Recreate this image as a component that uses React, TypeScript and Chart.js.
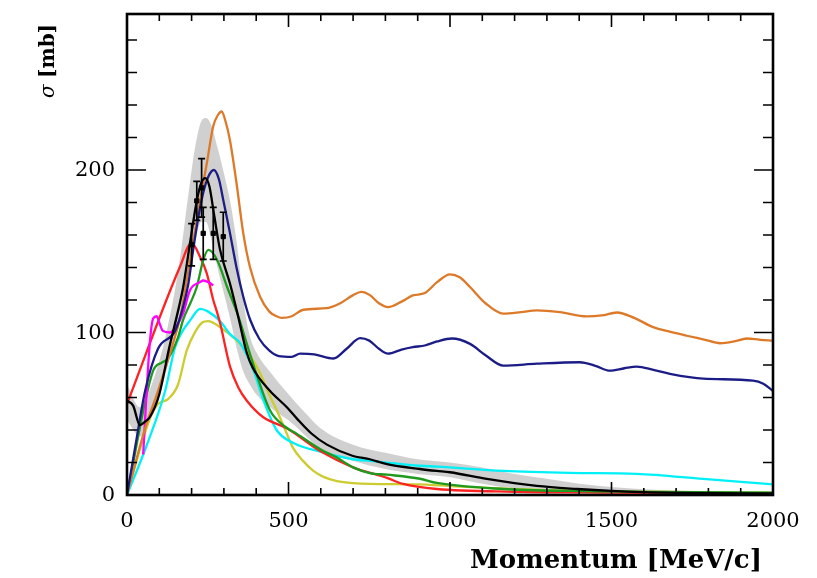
import React, { useEffect, useRef } from "react";
import { Chart, registerables } from "chart.js";

Chart.register(...registerables);

const X_MIN = 0;
const X_MAX = 2000;
const Y_MIN = 0;
const Y_MAX = 296;
const xTickValues = [0, 500, 1000, 1500, 2000];
const yTickValues = [0, 100, 200];
const xTitle = "Momentum [MeV/c]";
const yTitleSymbol = "σ";
const yTitleUnit = "[mb]";

// Orange curve
const orangeP = [0, 56, 96, 139, 164, 200, 226, 247, 267, 282, 293, 305, 319, 339, 360, 381, 412, 440, 463, 480, 510, 546, 619, 660, 700, 725, 752, 780, 808, 850, 885, 922, 960, 1000, 1030, 1062, 1110, 1165, 1220, 1269, 1340, 1424, 1470, 1517, 1570, 1629, 1680, 1733, 1790, 1836, 1880, 1919, 1960, 2000];
const orangeS = [0, 41, 64, 91, 109, 150, 181, 204, 227, 234, 236, 230, 218, 192, 161, 140, 122, 113, 110, 109, 110, 114, 115, 118, 123, 125, 123, 118, 115.6, 119, 122.8, 124.3, 131, 135.8, 134, 128, 118, 111.6, 112.5, 113.6, 112.5, 109.9, 110.5, 112.3, 109, 103.3, 100.5, 98, 95.5, 93.4, 94.5, 96.3, 95.5, 95];

// Navy curve
const navyP = [0, 30, 56, 96, 149, 174, 190, 205, 221, 236, 252, 269, 285, 298, 319, 339, 360, 381, 410, 440, 470, 510, 536, 580, 639, 680, 722, 750, 780, 808, 850, 885, 922, 960, 1006, 1062, 1110, 1165, 1269, 1402, 1450, 1495, 1540, 1578, 1630, 1681, 1784, 1938, 1970, 2000];
const navyS = [0, 35, 64, 90, 101, 116, 130, 151, 171, 186, 196, 200, 194, 181.5, 161, 140, 122, 108, 96, 89, 85.5, 85, 87, 86.5, 84, 90, 96.5, 95, 90, 87, 89.5, 91, 92, 94.5, 96.3, 93, 86, 79.6, 80.8, 81.7, 79.5, 76.5, 78, 79, 77, 74.6, 71.6, 70.4, 68.5, 64];

// Black curve
const blackP = [0, 19, 40, 55, 71, 100, 130, 160, 174, 195, 216, 230, 242, 255, 270, 288, 319, 344, 370, 390, 443, 495, 526, 570, 619, 700, 752, 805, 907, 959, 1000, 1114, 1269, 1393, 1500, 1600, 1800, 2000];
const blackS = [58, 55, 43, 45, 48, 62, 90, 115, 128, 155, 181, 192, 195, 190, 172, 151, 130, 110, 88, 78, 64, 54, 47, 38, 31, 24, 22, 19, 16, 14.8, 14, 9.9, 5.6, 3.7, 2.5, 1.8, 1.2, 1];

// Cyan curve
const cyanP = [0, 60, 118, 149, 201, 226, 250, 288, 319, 350, 391, 422, 463, 515, 598, 700, 752, 907, 959, 1165, 1372, 1578, 1784, 1981, 2000];
const cyanS = [0, 30, 64, 91, 109, 114.5, 113, 107, 99, 93.5, 77, 58.5, 40, 32, 26.7, 22, 21, 18, 17.5, 14.8, 13.6, 13, 9.9, 6.8, 6.5];

// Yellow curve
const yellowP = [0, 40, 71, 96, 127, 158, 185, 210, 232, 251, 290, 340, 380, 412, 440, 464, 490, 514, 545, 576, 610, 650, 700, 752, 900, 1000, 1100, 1300, 1600, 2000];
const yellowS = [0, 28, 47, 56, 59, 68, 89, 100, 106, 107, 103, 95, 86, 75, 62, 52, 40, 29, 21, 15, 11, 8.6, 7.3, 6.8, 6.5, 5.5, 4.5, 3, 2, 1.5];

// Red curve
const redP = [0, 164, 200, 226, 247, 267, 278, 288, 319, 345, 371, 421, 495, 598, 700, 805, 855, 959, 1200, 1500, 2000];
const redS = [56, 140.5, 155, 146.6, 136.4, 120, 113, 106, 79, 66, 58, 48, 41, 27, 17, 10.5, 6.8, 3.7, 2, 1.5, 1];

// Green curve
const greenP = [0, 81, 108, 127, 158, 174, 196, 216, 236, 252, 279, 310, 345, 371, 400, 443, 490, 526, 600, 650, 700, 752, 805, 907, 959, 1165, 1372, 2000];
const greenS = [0, 76.5, 81.5, 84, 97, 108, 118, 128, 144.6, 150.8, 144.6, 128, 109.7, 93, 75, 52, 42, 37.6, 28, 23, 17, 13.5, 12.5, 10, 7.4, 3.7, 2.5, 1.5];

// Magenta curve
const magentaP = [50, 70, 81, 92, 100, 111, 133, 150, 174, 195, 226, 236, 252, 267];
const magentaS = [25, 92, 108.6, 110, 106, 101, 100, 103, 112, 126, 131, 132, 131, 129];

// Grey uncertainty band
const bandP = [0, 40, 80, 120, 160, 190, 210, 230, 245, 260, 280, 300, 320, 340, 360, 380, 400, 450, 500, 550, 600, 700, 800, 900, 1000, 1100, 1200, 1300, 1400, 1500, 1600, 1800, 2000];
const bandUpper = [68, 54, 70, 98, 140, 185, 213, 230, 232, 228, 214, 198, 180, 155, 120, 98, 88, 74, 62, 51, 41, 31, 26, 22, 20, 17, 13, 10, 7, 5, 3.5, 2.2, 1.8];
const bandLower = [46, 36, 50, 75, 108, 138, 156, 168, 168, 158, 140, 124, 108, 90, 76, 68, 62, 53, 46, 37, 28, 21, 16, 13, 11, 7, 4, 2, 1, 0.5, 0.3, 0.2, 0.1];

// Measured points with error bars
const dataP = [200, 216, 231, 236, 267, 298];
const dataS = [154, 181, 189, 161, 161, 159];
const dataErr = [13, 12, 18, 16, 16, 15];

const zip = (p: number[], s: number[]) => p.map((x, i) => ({ x, y: s[i] }));

const line = (label: string, p: number[], s: number[], color: string, order: number) => ({
  label,
  data: zip(p, s),
  borderColor: color,
  backgroundColor: color,
  borderWidth: 2.3,
  pointRadius: 0,
  fill: false,
  cubicInterpolationMode: "monotone" as const,
  order,
});

const framePlugin = {
  id: "frameTicks",
  afterDatasetsDraw(chart: any) {
    const ctx = chart.ctx;
    const xs = chart.scales.x;
    const ys = chart.scales.y;
    ctx.save();
    ctx.strokeStyle = "#000";
    ctx.lineWidth = 1.7;
    for (let i = 0; i < dataP.length; i++) {
      const px = xs.getPixelForValue(dataP[i]);
      const top = ys.getPixelForValue(dataS[i] + dataErr[i]);
      const bot = ys.getPixelForValue(dataS[i] - dataErr[i]);
      ctx.beginPath();
      ctx.moveTo(px, top);
      ctx.lineTo(px, bot);
      ctx.moveTo(px - 3.5, top);
      ctx.lineTo(px + 3.5, top);
      ctx.moveTo(px - 3.5, bot);
      ctx.lineTo(px + 3.5, bot);
      ctx.stroke();
    }
    ctx.restore();
  },
  afterDraw(chart: any) {
    const ctx = chart.ctx;
    const a = chart.chartArea;
    const xs = chart.scales.x;
    const ys = chart.scales.y;
    ctx.save();
    ctx.strokeStyle = "#000";
    ctx.lineWidth = 1.6;
    for (let v = X_MIN; v <= X_MAX; v += 100) {
      const px = xs.getPixelForValue(v);
      const len = v % 500 === 0 ? 13 : 7;
      ctx.beginPath();
      ctx.moveTo(px, a.bottom);
      ctx.lineTo(px, a.bottom - len);
      ctx.moveTo(px, a.top);
      ctx.lineTo(px, a.top + len);
      ctx.stroke();
    }
    for (let v = Y_MIN; v <= Y_MAX; v += 20) {
      const py = ys.getPixelForValue(v);
      const len = v % 100 === 0 ? 19 : 10;
      ctx.beginPath();
      ctx.moveTo(a.left, py);
      ctx.lineTo(a.left + len, py);
      ctx.moveTo(a.right, py);
      ctx.lineTo(a.right - len, py);
      ctx.stroke();
    }
    ctx.lineWidth = 2.6;
    ctx.strokeRect(a.left, a.top, a.right - a.left, a.bottom - a.top);

    ctx.fillStyle = "#000";
    ctx.font = "bold 26px 'DejaVu Serif'";
    ctx.textAlign = "right";
    ctx.textBaseline = "alphabetic";
    ctx.fillText(xTitle, 762, 568);

    ctx.translate(54, 98);
    ctx.rotate(-Math.PI / 2);
    ctx.textAlign = "left";
    ctx.textBaseline = "alphabetic";
    ctx.font = "italic 20px 'DejaVu Serif'";
    ctx.fillText(yTitleSymbol, 0, 0);
    const w = ctx.measureText(yTitleSymbol + " ").width;
    ctx.font = "bold 20px 'DejaVu Serif'";
    ctx.fillText(yTitleUnit, w, 0);
    ctx.restore();
  },
};

export default function App() {
  const ref = useRef<HTMLCanvasElement | null>(null);
  useEffect(() => {
    if (!ref.current) return;
    const chart = new Chart(ref.current, {
      type: "line",
      data: {
        datasets: [
          {
            label: "data",
            data: zip(dataP, dataS),
            showLine: false,
            pointStyle: "rect",
            pointRadius: 3,
            backgroundColor: "#000",
            borderColor: "#000",
            order: 0,
          } as any,
          line("black", blackP, blackS, "#000000", 1),
          line("navy", navyP, navyS, "#1c1c86", 2),
          line("orange", orangeP, orangeS, "#dd7a2a", 3),
          line("magenta", magentaP, magentaS, "#ff00ff", 4),
          line("green", greenP, greenS, "#1e9a1e", 5),
          line("red", redP, redS, "#ff2222", 6),
          line("cyan", cyanP, cyanS, "#00f0f8", 7),
          line("yellow", yellowP, yellowS, "#cccc30", 8),
          {
            label: "band-upper",
            data: zip(bandP, bandUpper),
            borderWidth: 0,
            borderColor: "rgba(0,0,0,0)",
            pointRadius: 0,
            fill: false,
            cubicInterpolationMode: "monotone",
            order: 20,
          } as any,
          {
            label: "band-lower",
            data: zip(bandP, bandLower),
            borderWidth: 0,
            borderColor: "rgba(0,0,0,0)",
            backgroundColor: "rgba(200,200,200,0.85)",
            pointRadius: 0,
            fill: "-1",
            cubicInterpolationMode: "monotone",
            order: 21,
          } as any,
        ],
      },
      options: {
        responsive: false,
        animation: false,
        devicePixelRatio: 1,
        layout: { padding: { top: 14, right: 44, left: 0, bottom: 0 } },
        plugins: { legend: { display: false }, tooltip: { enabled: false } },
        scales: {
          x: {
            type: "linear",
            min: X_MIN,
            max: X_MAX,
            grid: { display: false, drawTicks: false },
            border: { display: false },
            afterBuildTicks: (s: any) => {
              s.ticks = xTickValues.map((v) => ({ value: v }));
            },
            afterFit: (s: any) => {
              s.height = 83;
              s.paddingLeft = 0;
              s.paddingRight = 0;
            },
            ticks: {
              padding: 14,
              color: "#000",
              font: { family: "'DejaVu Serif'", size: 21 },
              maxRotation: 0,
              callback: (v: any) => String(v),
            },
          },
          y: {
            type: "linear",
            min: Y_MIN,
            max: Y_MAX,
            grid: { display: false, drawTicks: false },
            border: { display: false },
            afterBuildTicks: (s: any) => {
              s.ticks = yTickValues.map((v) => ({ value: v }));
            },
            afterFit: (s: any) => {
              s.width = 127;
              s.paddingTop = 0;
              s.paddingBottom = 0;
            },
            ticks: {
              padding: 12,
              color: "#000",
              labelOffset: 1,
              font: { family: "'DejaVu Serif'", size: 21 },
              callback: (v: any) => String(v),
            },
          },
        },
      },
      plugins: [framePlugin],
    } as any);
    return () => chart.destroy();
  }, []);
  return (
    <div style={{ position: "fixed", left: 0, top: 0, width: 817, height: 578, background: "#fff" }}>
      <canvas ref={ref} width={817} height={578} style={{ width: 817, height: 578 }} />
    </div>
  );
}
